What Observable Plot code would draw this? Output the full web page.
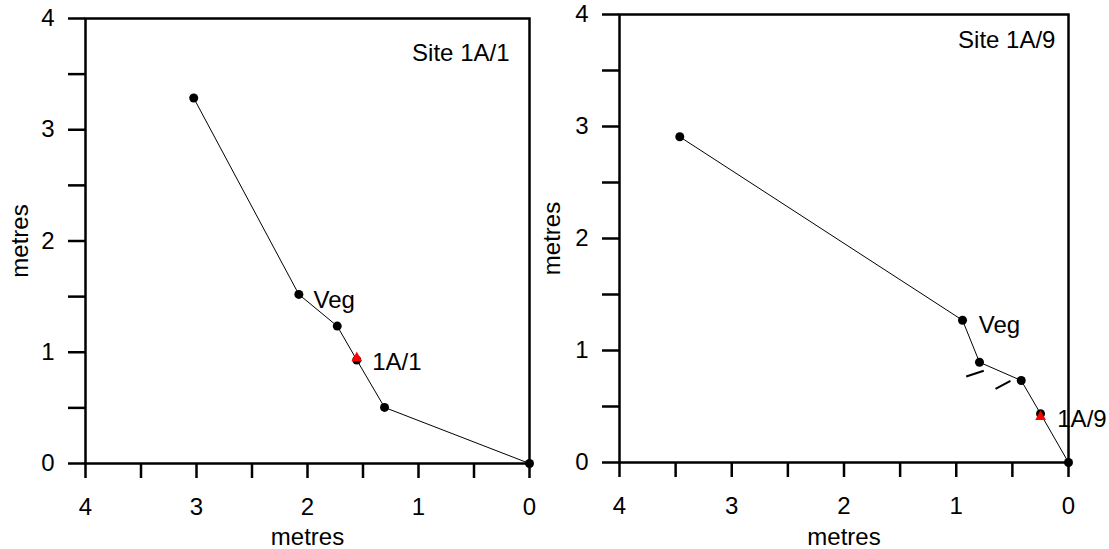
<!DOCTYPE html>
<html><head><meta charset="utf-8">
<script src="https://cdn.jsdelivr.net/npm/d3@7"></script>
<script src="https://cdn.jsdelivr.net/npm/@observablehq/plot@0.6"></script>
<style>
body{margin:0;background:#fff;}
#wrap{position:relative;width:1109px;height:549px;background:#fff;overflow:hidden;}
#wrap > svg{position:absolute;top:0;overflow:visible;}
</style></head><body><div id="wrap"></div>
<script>
// ---- data ----
const majorTicks = [0, 1, 2, 3, 4];
const minorTicks = [0, 0.5, 1, 1.5, 2, 2.5, 3, 3.5, 4];
const axisTitle = "metres";

const site1Title = "Site 1A/1";
const site1X = [3.025, 2.078, 1.732, 1.556, 1.306, 0];
const site1Y = [3.285, 1.52, 1.235, 0.93, 0.504, 0];
const site1Sample = 3; // red-marked point
const site1Labels = ["Veg", "1A/1"];
const site1LabelX = [1.946, 1.417];
const site1LabelY = [1.466, 0.911];
const site1TitleX = 0.18, site1TitleY = 3.69;

const site9Title = "Site 1A/9";
const site9X = [3.463, 0.944, 0.793, 0.421, 0.249, 0];
const site9Y = [2.908, 1.27, 0.895, 0.732, 0.435, 0];
const site9Sample = 4;
const site9Labels = ["Veg", "1A/9"];
const site9LabelX = [0.80, 0.10];
const site9LabelY = [1.223, 0.39];
const site9TitleX = 0.116, site9TitleY = 3.77;
// break marks (x1,y1,x2,y2) on site 1A/9
const breakX1 = [0.911, 0.650];
const breakY1 = [0.768, 0.658];
const breakX2 = [0.755, 0.517];
const breakY2 = [0.819, 0.729];

const FONT = "'Liberation Sans', Arial, Helvetica, sans-serif";
const FS = 24;

function panel(o) {
  const pts = o.xs.map((x, i) => ({x, y: o.ys[i]}));
  const labs = o.labels.map((t, i) => ({t, x: o.lx[i], y: o.ly[i]}));
  const fmt = d => majorTicks.includes(d) ? String(d) : "";
  const marks = [
    Plot.line(pts, {x: "x", y: "y", stroke: "black", strokeWidth: 1}),
    Plot.dot(pts, {x: "x", y: "y", r: 4.5, fill: "black", stroke: "none"}),
    Plot.dot([pts[o.sample]], {x: "x", y: "y", r: 4, symbol: "triangle", fill: "#ff0000", stroke: "none", dy: o.tdy}),
    Plot.text(labs, {x: "x", y: "y", text: "t", textAnchor: "start", fontSize: FS, fill: "black"}),
    Plot.text([o.title], {x: o.tx, y: o.ty, text: d => d, textAnchor: "end", fontSize: FS, fill: "black"})
  ];
  if (o.breaks) {
    const br = o.breaks.x1.map((x1, i) => ({x1, y1: o.breaks.y1[i], x2: o.breaks.x2[i], y2: o.breaks.y2[i]}));
    marks.push(Plot.link(br, {x1: "x1", y1: "y1", x2: "x2", y2: "y2", stroke: "black", strokeWidth: 2}));
  }
  marks.push(
    Plot.axisX({ticks: minorTicks, tickFormat: fmt, tickSize: 15, tickPadding: 19, strokeWidth: 2.5,
      label: axisTitle, labelAnchor: "center", labelOffset: o.xLabelOffset, labelArrow: "none", fontSize: FS}),
    Plot.axisY({ticks: minorTicks, tickFormat: fmt, tickSize: 17, tickPadding: 14, strokeWidth: 2.5,
      label: axisTitle, labelAnchor: "center", labelOffset: o.yLabelOffset, labelArrow: "none", fontSize: FS}),
    Plot.frame({stroke: "black", strokeWidth: 2.5})
  );
  const svg = Plot.plot({
    width: o.width, height: 549,
    marginLeft: o.ml, marginRight: o.mr, marginTop: o.mt, marginBottom: o.mb,
    x: {domain: [4, 0]},
    y: {domain: [0, 4]},
    style: {fontFamily: FONT, fontSize: FS + "px", background: "transparent", color: "black", overflow: "visible"},
    marks
  });
  svg.style.left = o.left + "px";
  return svg;
}

const wrap = document.getElementById("wrap");
wrap.appendChild(panel({
  left: 0, width: 540, ml: 85, mr: 11, mt: 18, mb: 86,
  xs: site1X, ys: site1Y, sample: site1Sample, tdy: -2,
  labels: site1Labels, lx: site1LabelX, ly: site1LabelY,
  title: site1Title, tx: site1TitleX, ty: site1TitleY,
  xLabelOffset: 81, yLabelOffset: 75
}));
wrap.appendChild(panel({
  left: 540, width: 569, ml: 79, mr: 41, mt: 14, mb: 87,
  xs: site9X, ys: site9Y, sample: site9Sample, tdy: 3,
  labels: site9Labels, lx: site9LabelX, ly: site9LabelY,
  title: site9Title, tx: site9TitleX, ty: site9TitleY,
  breaks: {x1: breakX1, y1: breakY1, x2: breakX2, y2: breakY2},
  xLabelOffset: 82, yLabelOffset: 77
}));
</script></body></html>
